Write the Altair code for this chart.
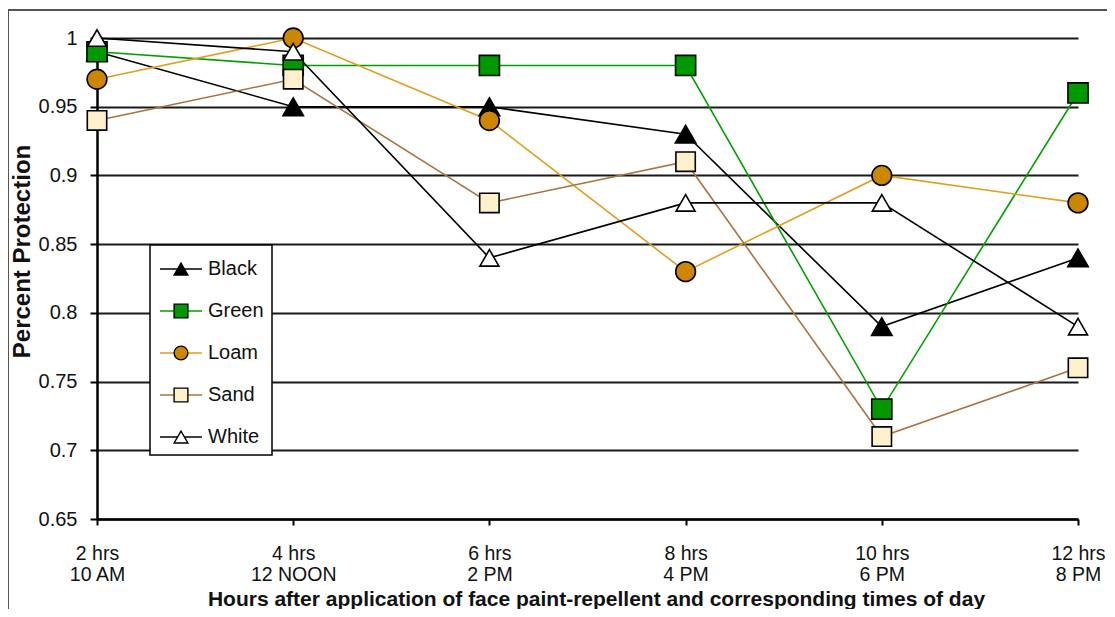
import altair as alt
import pandas as pd

hours = ["2 hrs", "4 hrs", "6 hrs", "8 hrs", "10 hrs", "12 hrs"]
times = ["10 AM", "12 NOON", "2 PM", "4 PM", "6 PM", "8 PM"]
series = ["Black", "Green", "Loam", "Sand", "White"]
black = [0.99, 0.95, 0.95, 0.93, 0.79, 0.84]
green = [0.99, 0.98, 0.98, 0.98, 0.73, 0.96]
loam = [0.97, 1.00, 0.94, 0.83, 0.90, 0.88]
sand = [0.94, 0.97, 0.88, 0.91, 0.71, 0.76]
white = [1.00, 0.99, 0.84, 0.88, 0.88, 0.79]
y_ticks = [0.65, 0.7, 0.75, 0.8, 0.85, 0.9, 0.95, 1.0]

line_colors = ["#000000", "#00A000", "#DE9E1E", "#A8743F", "#000000"]
fill_colors = ["#000000", "#009900", "#CC8600", "#FFF0CC", "#FFFFFF"]
shapes = ["triangle-up", "square", "circle", "square", "triangle-up"]
sizes = [420, 361, 380, 361, 420]

FONT = "Liberation Sans"

xcats = [f"{h}|{t}" for h, t in zip(hours, times)]
rows = []
for si, (name, vals) in enumerate(zip(series, [black, green, loam, sand, white])):
    for xi, v in enumerate(vals):
        rows.append({"series": name, "x": xcats[xi], "value": v, "si": si, "xi": xi})
df = pd.DataFrame(rows)

leg = pd.DataFrame({"series": series, "li": list(range(len(series)))})

W, H = 981, 481

xenc = alt.X(
    "x:N",
    sort=xcats,
    scale=alt.Scale(type="point", domain=xcats, padding=0),
    axis=alt.Axis(
        title="Hours after application of face paint-repellent and corresponding times of day",
        labelExpr="split(datum.label, '|')",
        labelAngle=0,
        labelFont=FONT,
        labelFontSize=19.5,
        labelColor="#111111",
        labelLineHeight=21,
        labelPadding=19,
        tickSize=6,
        tickColor="#000000",
        tickWidth=2,
        domainColor="#000000",
        domainWidth=2.5,
        grid=False,
        titleFont=FONT,
        titleFontSize=21,
        titleFontWeight="bold",
        titleColor="#111111",
        titleX=499,
        titleY=86,
        titleBaseline="alphabetic",
    ),
)
yscale = alt.Scale(domain=[0.65, 1.0], nice=False, zero=False)
yenc = alt.Y(
    "value:Q",
    scale=yscale,
    axis=alt.Axis(
        title="Percent Protection",
        values=y_ticks,
        labelExpr="format(datum.value, '.2~f')",
        labelFont=FONT,
        labelFontSize=20,
        labelColor="#111111",
        labelPadding=13,
        tickSize=7,
        tickColor="#000000",
        tickWidth=2,
        domainColor="#000000",
        domainWidth=2.5,
        grid=True,
        gridColor="#1a1a1a",
        gridWidth=2,
        titleFont=FONT,
        titleFontSize=24,
        titleFontWeight="bold",
        titleColor="#111111",
        titleAngle=270,
        titleX=-75,
        titleY=213,
        titleBaseline="middle",
        titleAlign="center",
    ),
)

frame = alt.Chart(leg).mark_rect(
    fillOpacity=0, stroke="#555555", strokeWidth=2
).encode(
    x=alt.value(-89), x2=alt.value(1110), y=alt.value(-28), y2=alt.value(700)
).transform_filter("datum.li == 0")

lines = alt.Chart(df).mark_line(strokeWidth=1.6).encode(
    x=xenc,
    y=yenc,
    color=alt.Color("series:N", scale=alt.Scale(domain=series, range=line_colors), legend=None),
    detail="series:N",
    order="xi:Q",
)

points = alt.Chart(df).mark_point(filled=True, opacity=1, stroke="#000000", strokeWidth=1.6).encode(
    x=alt.X("x:N", sort=xcats, scale=alt.Scale(type="point", domain=xcats, padding=0)),
    y=alt.Y("value:Q", scale=yscale),
    shape=alt.Shape("series:N", scale=alt.Scale(domain=series, range=shapes), legend=None),
    fill=alt.Fill("series:N", scale=alt.Scale(domain=series, range=fill_colors), legend=None),
    size=alt.Size("series:N", scale=alt.Scale(domain=series, range=sizes), legend=None),
    order="si:Q",
)

main = alt.layer(lines, points)

legy = alt.Y("li:Q", scale=alt.Scale(domain=[0, 4], range=[231, 399]), axis=None)

leg_box = alt.Chart(leg).mark_rect(fill="#FFFFFF", stroke="#000000", strokeWidth=1.5).encode(
    x=alt.value(53), x2=alt.value(175), y=alt.value(207), y2=alt.value(417)
).transform_filter("datum.li == 0")

leg_lines = alt.Chart(leg).mark_rule(strokeWidth=1.6).encode(
    x=alt.value(63), x2=alt.value(105), y=legy,
    color=alt.Color("series:N", scale=alt.Scale(domain=series, range=line_colors), legend=None),
)
leg_pts = alt.Chart(leg).mark_point(filled=True, opacity=1, stroke="#000000", strokeWidth=1.4).encode(
    x=alt.value(84), y=legy,
    shape=alt.Shape("series:N", scale=alt.Scale(domain=series, range=shapes), legend=None),
    fill=alt.Fill("series:N", scale=alt.Scale(domain=series, range=fill_colors), legend=None),
    size=alt.value(190),
)
leg_txt = alt.Chart(leg).mark_text(
    align="left", baseline="middle", font=FONT, fontSize=20, color="#111111"
).encode(x=alt.value(111), y=legy, text="series:N")

legend = alt.layer(leg_box, leg_lines, leg_pts, leg_txt)

chart = alt.layer(frame, main, legend).resolve_scale(
    y="independent", color="independent", shape="independent", fill="independent"
).properties(
    width=W,
    height=H,
    autosize=alt.AutoSizeParams(type="none"),
    padding={"left": 89, "top": 30, "right": 29, "bottom": 90},
).configure_view(strokeWidth=0)

chart.save("out.html", embed_options={"renderer": "svg", "actions": False})
